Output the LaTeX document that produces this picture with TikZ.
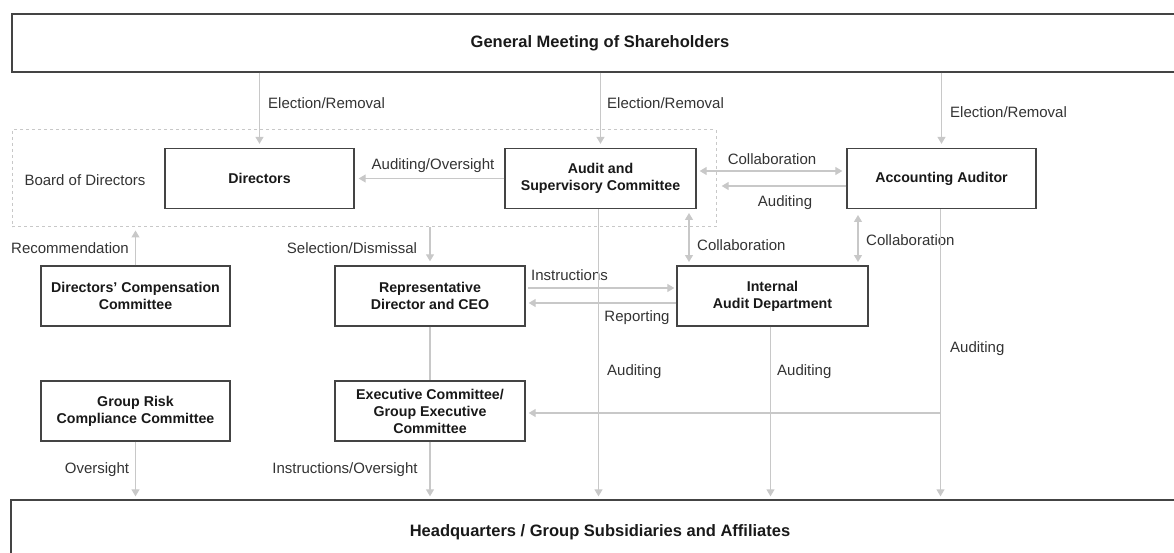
\documentclass[tikz,border=0pt]{standalone}
\usepackage{fontspec}
\setmainfont{Liberation Sans}
\usetikzlibrary{arrows.meta,calc}
\definecolor{ln}{HTML}{C8C8C8}
\definecolor{bx}{HTML}{444444}
\definecolor{tx}{HTML}{333333}
\tikzset{
  box/.style={draw=bx, line width=1.3pt, fill=white, minimum width=189pt, minimum height=60pt,
    align=center, font=\fontsize{14.2}{17}\selectfont\bfseries, text=black!90, inner sep=2pt},
  big/.style={draw=bx, line width=1.3pt, align=center, font=\fontsize{16.5}{18}\selectfont\bfseries, text=black!90},
  arr/.style={draw=ln, line width=1.2pt, -{Triangle[width=8pt,length=7pt]}},
  darr/.style={draw=ln, line width=1.2pt, {Triangle[width=8pt,length=7pt]}-{Triangle[width=8pt,length=7pt]}},
  pl/.style={draw=ln, line width=1.2pt},
  lbl/.style={font=\fontsize{15}{17}\selectfont, text=tx, inner sep=0pt},
}
\begin{document}
\begin{tikzpicture}[x=1pt,y=-1pt]
\useasboundingbox (0,0) rectangle (1174,553);
% top and bottom
\node[big, minimum width=1176pt, minimum height=58pt] (gm) at (600,43) {General Meeting of Shareholders};
\node[big, minimum width=1178pt, minimum height=64pt] (hq) at (600,532) {Headquarters / Group Subsidiaries and Affiliates};
% board dashed
\node[draw=ln, dashed, line width=1pt, minimum width=704pt, minimum height=97pt, inner sep=0pt] (bod) at (364,178.5) {};
\node[lbl] (bodl) at (85,180) {Board of Directors};
% boxes
\node[box] (dir) at (259.5,178.5) {Directors};
\node[box, minimum width=191pt] (asc) at (600.5,178.5) {Audit and\\Supervisory Committee};
\node[box] (acc) at (941.5,178.5) {Accounting Auditor};
\node[box] (comp) at (135.5,296) {Directors' Compensation\\Committee};
\node[box, minimum width=190pt] (ceo) at (430,296) {Representative\\Director and CEO};
\node[box, minimum width=191pt] (iad) at (772.5,296) {Internal\\Audit Department};
\node[box] (grc) at (135.5,411) {Group Risk\\Compliance Committee};
\node[box, minimum width=190pt] (exec) at (430,411) {Executive Committee/\\Group Executive\\Committee};
% election
\draw[arr, shorten >=4pt] (gm.south -| dir.north) -- (dir.north);
\draw[arr, shorten >=4pt] (gm.south -| asc.north) -- (asc.north);
\draw[arr, shorten >=4pt] (gm.south -| acc.north) -- (acc.north);
\node[lbl, anchor=west] at (268,103) {Election/Removal};
\node[lbl, anchor=west] at (607,103) {Election/Removal};
\node[lbl, anchor=west] at (950,112) {Election/Removal};
% auditing/oversight
\draw[arr, shorten >=4pt] (asc.west) -- (dir.east);
\node[lbl] at (433,166) {Auditing/Oversight};
% collaboration asc-acc
\coordinate (c1) at ($(asc.east)+(3,-7.5)$);
\coordinate (c2) at ($(acc.west)+(-4,-7.5)$);
\draw[darr] (c1) -- (c2);
\node[lbl] at (772,159) {Collaboration};
\coordinate (a1) at ($(acc.west)+(0,7.5)$);
\coordinate (a2) at ($(asc.east)+(25,7.5)$);
\draw[arr] (a1) -- (a2);
\node[lbl] at (785,203) {Auditing};
% vertical collaborations
\coordinate (v1) at (689,209);
\coordinate (v2) at (689,266);
\draw[darr, shorten <=4pt, shorten >=4pt] (v1) -- (v2);
\node[lbl, anchor=west] at (697,245) {Collaboration};
\coordinate (w1) at (858,209);
\coordinate (w2) at (858,266);
\draw[darr, shorten <=6pt, shorten >=4pt] (w1) -- (w2);
\node[lbl, anchor=west] at (866,240) {Collaboration};
% recommendation and selection
\draw[arr, shorten >=3pt] (comp.north) -- (comp.north |- bod.south);
\node[lbl] at (70,248) {Recommendation};
\draw[arr, shorten >=4pt] (bod.south -| ceo.north) -- (ceo.north);
\node[lbl] at (352,248) {Selection/Dismissal};
% instructions / reporting
\draw[arr, shorten >=2pt] ($(ceo.east)+(2,-8)$) -- ($(iad.west)+(0,-8)$);
\node[lbl, anchor=west] at (531,275) {Instructions};
\draw[arr, shorten >=3pt] ($(iad.west)+(0,7)$) -- ($(ceo.east)+(0,7)$);
\node[lbl] at (637,318) {Reporting};
% ceo - exec
\draw[pl] (ceo.south) -- (exec.north);
% auditing downs
\draw[arr, shorten >=3pt] (asc.south) ++(-2,0) coordinate (d1) -- (d1 |- hq.north);
\node[lbl, anchor=west] at (607,372) {Auditing};
\draw[arr, shorten >=3pt] (iad.south) ++(-2,0) coordinate (d2) -- (d2 |- hq.north);
\node[lbl, anchor=west] at (777,372) {Auditing};
\draw[arr, shorten >=3pt] (acc.south) ++(-1,0) coordinate (d3) -- (d3 |- hq.north);
\node[lbl, anchor=west] at (950,349) {Auditing};
% acc -> exec
\coordinate (e1) at (940,413);
\draw[arr, shorten >=3pt] (e1) -- (exec.east |- e1);
% bottom arrows
\draw[arr, shorten >=3pt] (grc.south) -- (grc.south |- hq.north);
\node[lbl] at (97,470) {Oversight};
\draw[arr, shorten >=3pt] (exec.south) -- (exec.south |- hq.north);
\node[lbl] at (345,470) {Instructions/Oversight};
\end{tikzpicture}
\end{document}
